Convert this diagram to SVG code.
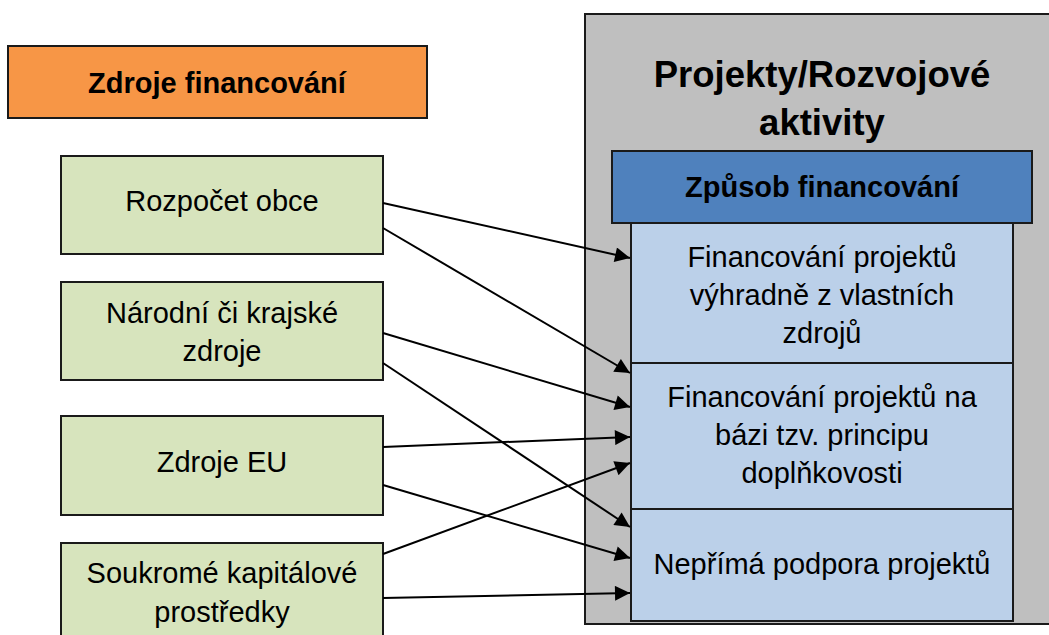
<svg xmlns="http://www.w3.org/2000/svg" width="1049" height="635" viewBox="0 0 1049 635">
<defs>
<style>
.box{stroke:#1a1a1a;stroke-width:2}
.t{font-family:"Liberation Sans",Arial,sans-serif;font-size:29px;fill:#000;text-anchor:middle}
.b{font-weight:bold}
.c{stroke:#000;stroke-width:2;fill:none;marker-end:url(#ah)}
</style>
<marker id="ah" viewBox="0 0 10 10" refX="10" refY="5" markerWidth="8" markerHeight="7.5" markerUnits="strokeWidth" orient="auto"><path d="M0,0 L10,5 L0,10 z" fill="#000"/></marker>
</defs>
<rect width="1049" height="635" fill="#fff"/>
<g id="projekty">
<rect class="box" x="585" y="14" width="470" height="610" fill="#BFBFBF"/>
<text class="t b" x="822" y="87" style="font-size:36.5px">Projekty/Rozvojové</text>
<text class="t b" x="822" y="135" style="font-size:36.5px">aktivity</text>
</g>
<g id="zdroje-financovani">
<rect class="box" x="8" y="46" width="419" height="72" fill="#F79646"/>
<text class="t b" x="217" y="93">Zdroje financování</text>
</g>
<g id="zpusob-financovani">
<rect class="box" x="612" y="151" width="420" height="72" fill="#4F81BD"/>
<text class="t b" x="822" y="197">Způsob financování</text>
</g>
<g id="z1">
<rect class="box" x="631" y="223" width="382" height="140" fill="#BBD0E9"/>
<text class="t" x="822" y="267">Financování projektů</text>
<text class="t" x="822" y="305">výhradně z vlastních</text>
<text class="t" x="822" y="343">zdrojů</text>
</g>
<g id="z2">
<rect class="box" x="631" y="363" width="382" height="146" fill="#BBD0E9"/>
<text class="t" x="822" y="407">Financování projektů na</text>
<text class="t" x="822" y="445">bázi tzv. principu</text>
<text class="t" x="822" y="483">doplňkovosti</text>
</g>
<g id="z3">
<rect class="box" x="631" y="509" width="382" height="112" fill="#BBD0E9"/>
<text class="t" x="822" y="574">Nepřímá podpora projektů</text>
</g>
<g id="s1">
<rect class="box" x="61" y="156" width="322" height="98" fill="#D7E4BD"/>
<text class="t" x="222" y="211">Rozpočet obce</text>
</g>
<g id="s2">
<rect class="box" x="61" y="282" width="322" height="98" fill="#D7E4BD"/>
<text class="t" x="222" y="323">Národní či krajské</text>
<text class="t" x="222" y="361">zdroje</text>
</g>
<g id="s3">
<rect class="box" x="61" y="416" width="322" height="99" fill="#D7E4BD"/>
<text class="t" x="222" y="472">Zdroje EU</text>
</g>
<g id="s4">
<rect class="box" x="61" y="543" width="322" height="110" fill="#D7E4BD"/>
<text class="t" x="222" y="583">Soukromé kapitálové</text>
<text class="t" x="222" y="622">prostředky</text>
</g>
<g id="connectors">
<line class="c" x1="383" y1="203" x2="630" y2="258"/>
<line class="c" x1="383" y1="228" x2="630" y2="373"/>
<line class="c" x1="383" y1="333" x2="630" y2="407"/>
<line class="c" x1="383" y1="363" x2="630" y2="527"/>
<line class="c" x1="383" y1="447" x2="630" y2="437"/>
<line class="c" x1="383" y1="485" x2="630" y2="558"/>
<line class="c" x1="383" y1="554" x2="630" y2="463"/>
<line class="c" x1="383" y1="598" x2="630" y2="593"/>
</g>
</svg>
